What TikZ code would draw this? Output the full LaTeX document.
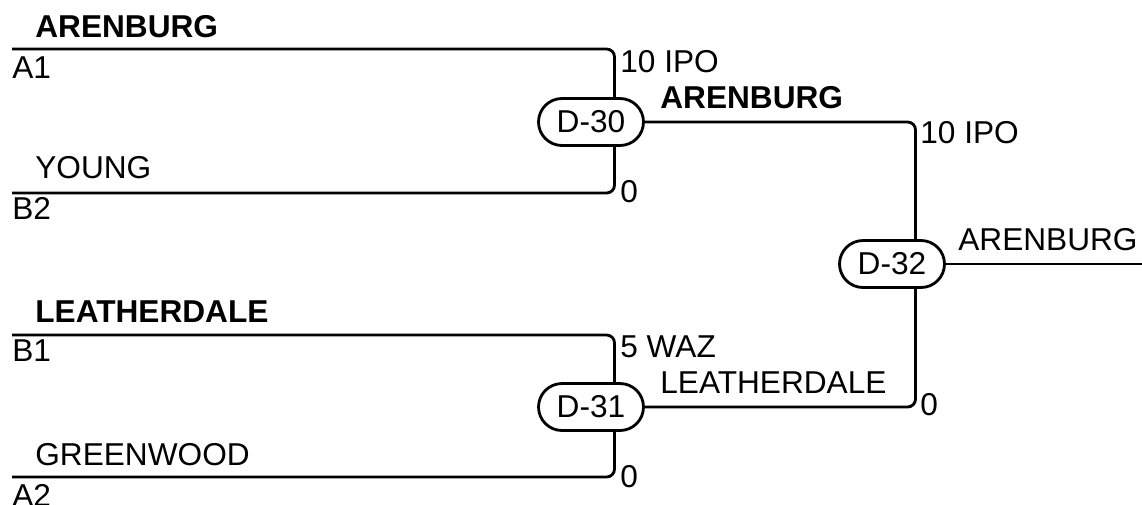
\documentclass[tikz,border=0pt]{standalone}
\usepackage{fontspec}
\setmainfont{Liberation Sans}
\usepackage{tikz}
\usetikzlibrary{shapes.misc}
\tikzset{
  matchnode/.style={draw, rounded rectangle, line width=1.6pt, minimum width=2.1cm, minimum height=0.94cm, inner sep=0pt, align=center, font=\fontsize{18}{21}\selectfont},
  wire/.style={line width=1.6pt, rounded corners=4.5pt},
  teamlabel/.style={anchor=base west, inner sep=0pt, font=\fontsize{18}{21}\selectfont},
  winnerlabel/.style={teamlabel, font=\fontsize{18}{21}\selectfont\bfseries},
  slotlabel/.style={teamlabel},
  scorelabel/.style={teamlabel}
}

\begin{document}
\begin{tikzpicture}[x=0.02cm, y=-0.02cm]
\useasboundingbox (0,0) rectangle (1142,504);

% Nodes
\node[matchnode] (D30) at (591,122) {D-30};
\node[matchnode] (D31) at (591,407) {D-31};
\node[matchnode] (D32) at (892,264) {D-32};
\coordinate (A1) at (12,49);
\coordinate (B2) at (12,193);
\coordinate (B1) at (12,335);
\coordinate (A2) at (12,477);
\coordinate (OUT) at (1142,264);

% Labels
\node[winnerlabel] (wA1) at (35,37) {ARENBURG};
\node[slotlabel] (lA1) at (12,78) {A1};
\node[teamlabel] (tB2) at (35,178) {YOUNG};
\node[slotlabel] (lB2) at (12,219) {B2};
\node[winnerlabel] (wB1) at (35,322) {LEATHERDALE};
\node[slotlabel] (lB1) at (12,361) {B1};
\node[teamlabel] (tA2) at (35,465) {GREENWOOD};
\node[slotlabel] (lA2) at (12,506) {A2};
\node[scorelabel] (s30a) at (620,72) {10 IPO};
\node[scorelabel] (s30b) at (620,202) {0};
\node[scorelabel] (s31a) at (620,357) {5 WAZ};
\node[scorelabel] (s31b) at (620,487) {0};
\node[winnerlabel] (w30) at (660,108) {ARENBURG};
\node[teamlabel] (w31) at (660,393) {LEATHERDALE};
\node[scorelabel] (s32a) at (920,143) {10 IPO};
\node[scorelabel] (s32b) at (920,415) {0};
\node[teamlabel] (w32) at (958,250) {ARENBURG};

% Edges
\draw[wire] (A1) -| ([xshift=0.47cm]D30.north);
\draw[wire] (B2) -| ([xshift=0.47cm]D30.south);
\draw[wire] (B1) -| ([xshift=0.47cm]D31.north);
\draw[wire] (A2) -| ([xshift=0.47cm]D31.south);
\draw[wire] (D30.east) -| ([xshift=0.47cm]D32.north);
\draw[wire] (D31.east) -| ([xshift=0.47cm]D32.south);
\draw[wire] (D32.east) -- (OUT);

\end{tikzpicture}
\end{document}
